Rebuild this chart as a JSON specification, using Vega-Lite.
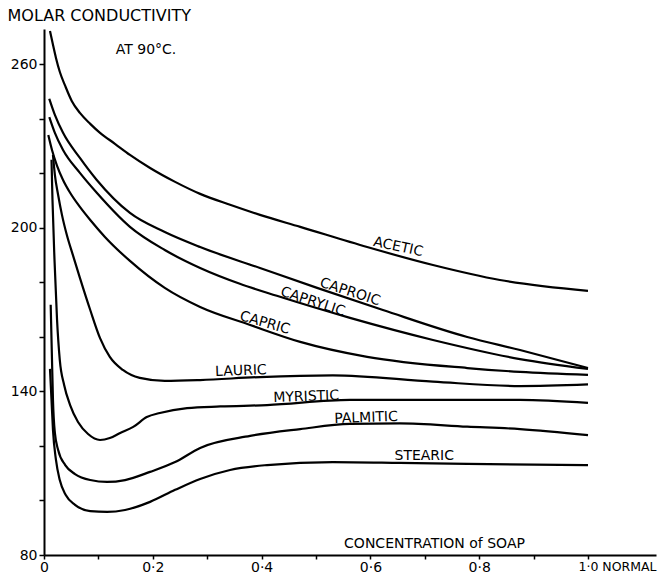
{
  "$schema": "https://vega.github.io/schema/vega-lite/v6.json",
  "width": 612,
  "height": 526,
  "autosize": {"type": "none"},
  "padding": {"left": 44, "top": 29, "right": 10, "bottom": 18},
  "background": "white",
  "config": {"view": {"stroke": null}, "font": "DejaVu Sans"},
  "datasets": {
    "curves": [
      {"acid": "Acetic", "c": 0.011, "k": 272.3},
      {"acid": "Acetic", "c": 0.0165, "k": 267.2},
      {"acid": "Acetic", "c": 0.022, "k": 262.4},
      {"acid": "Acetic", "c": 0.029, "k": 257.3},
      {"acid": "Acetic", "c": 0.039, "k": 252.1},
      {"acid": "Acetic", "c": 0.051, "k": 246.6},
      {"acid": "Acetic", "c": 0.066, "k": 242.2},
      {"acid": "Acetic", "c": 0.085, "k": 238.2},
      {"acid": "Acetic", "c": 0.103, "k": 234.9},
      {"acid": "Acetic", "c": 0.131, "k": 230.8},
      {"acid": "Acetic", "c": 0.158, "k": 226.8},
      {"acid": "Acetic", "c": 0.195, "k": 222.0},
      {"acid": "Acetic", "c": 0.241, "k": 216.9},
      {"acid": "Acetic", "c": 0.287, "k": 212.5},
      {"acid": "Acetic", "c": 0.342, "k": 208.5},
      {"acid": "Acetic", "c": 0.397, "k": 204.8},
      {"acid": "Acetic", "c": 0.471, "k": 200.4},
      {"acid": "Acetic", "c": 0.594, "k": 193.0},
      {"acid": "Acetic", "c": 0.715, "k": 186.4},
      {"acid": "Acetic", "c": 0.838, "k": 180.9},
      {"acid": "Acetic", "c": 1.0, "k": 176.9},

      {"acid": "Caproic", "c": 0.0097, "k": 247.4},
      {"acid": "Caproic", "c": 0.020, "k": 241.5},
      {"acid": "Caproic", "c": 0.035, "k": 234.9},
      {"acid": "Caproic", "c": 0.066, "k": 225.7},
      {"acid": "Caproic", "c": 0.097, "k": 217.6},
      {"acid": "Caproic", "c": 0.158, "k": 205.5},
      {"acid": "Caproic", "c": 0.222, "k": 198.5},
      {"acid": "Caproic", "c": 0.287, "k": 193.0},
      {"acid": "Caproic", "c": 0.397, "k": 185.3},
      {"acid": "Caproic", "c": 0.502, "k": 178.0},
      {"acid": "Caproic", "c": 0.623, "k": 169.9},
      {"acid": "Caproic", "c": 0.778, "k": 160.0},
      {"acid": "Caproic", "c": 0.875, "k": 155.2},
      {"acid": "Caproic", "c": 1.0, "k": 148.6},

      {"acid": "Caprylic", "c": 0.0097, "k": 240.7},
      {"acid": "Caprylic", "c": 0.020, "k": 234.9},
      {"acid": "Caprylic", "c": 0.035, "k": 228.6},
      {"acid": "Caprylic", "c": 0.066, "k": 220.2},
      {"acid": "Caprylic", "c": 0.097, "k": 212.9},
      {"acid": "Caprylic", "c": 0.158, "k": 200.4},
      {"acid": "Caprylic", "c": 0.222, "k": 191.9},
      {"acid": "Caprylic", "c": 0.287, "k": 185.3},
      {"acid": "Caprylic", "c": 0.360, "k": 179.5},
      {"acid": "Caprylic", "c": 0.428, "k": 175.1},
      {"acid": "Caprylic", "c": 0.5625, "k": 167.0},
      {"acid": "Caprylic", "c": 0.715, "k": 158.9},
      {"acid": "Caprylic", "c": 0.875, "k": 151.9},
      {"acid": "Caprylic", "c": 1.0, "k": 148.3},

      {"acid": "Capric", "c": 0.0079, "k": 234.1},
      {"acid": "Capric", "c": 0.0147, "k": 228.6},
      {"acid": "Capric", "c": 0.024, "k": 222.8},
      {"acid": "Capric", "c": 0.035, "k": 217.6},
      {"acid": "Capric", "c": 0.048, "k": 212.9},
      {"acid": "Capric", "c": 0.066, "k": 207.7},
      {"acid": "Capric", "c": 0.085, "k": 202.9},
      {"acid": "Capric", "c": 0.112, "k": 196.7},
      {"acid": "Capric", "c": 0.158, "k": 187.9},
      {"acid": "Capric", "c": 0.222, "k": 178.0},
      {"acid": "Capric", "c": 0.287, "k": 171.0},
      {"acid": "Capric", "c": 0.379, "k": 164.4},
      {"acid": "Capric", "c": 0.471, "k": 158.2},
      {"acid": "Capric", "c": 0.594, "k": 152.7},
      {"acid": "Capric", "c": 0.778, "k": 148.6},
      {"acid": "Capric", "c": 0.875, "k": 147.2},
      {"acid": "Capric", "c": 1.0, "k": 146.1},

      {"acid": "Lauric", "c": 0.0165, "k": 226.8},
      {"acid": "Lauric", "c": 0.020, "k": 219.5},
      {"acid": "Lauric", "c": 0.026, "k": 212.1},
      {"acid": "Lauric", "c": 0.033, "k": 204.8},
      {"acid": "Lauric", "c": 0.042, "k": 197.4},
      {"acid": "Lauric", "c": 0.053, "k": 190.1},
      {"acid": "Lauric", "c": 0.066, "k": 181.7},
      {"acid": "Lauric", "c": 0.085, "k": 169.9},
      {"acid": "Lauric", "c": 0.103, "k": 159.6},
      {"acid": "Lauric", "c": 0.121, "k": 152.7},
      {"acid": "Lauric", "c": 0.145, "k": 147.9},
      {"acid": "Lauric", "c": 0.176, "k": 145.0},
      {"acid": "Lauric", "c": 0.222, "k": 143.9},
      {"acid": "Lauric", "c": 0.287, "k": 144.2},
      {"acid": "Lauric", "c": 0.397, "k": 145.3},
      {"acid": "Lauric", "c": 0.531, "k": 145.9},
      {"acid": "Lauric", "c": 0.715, "k": 143.6},
      {"acid": "Lauric", "c": 0.875, "k": 142.0},
      {"acid": "Lauric", "c": 1.0, "k": 142.6},

      {"acid": "Myristic", "c": 0.0138, "k": 225.0},
      {"acid": "Myristic", "c": 0.0156, "k": 210.3},
      {"acid": "Myristic", "c": 0.0193, "k": 188.3},
      {"acid": "Myristic", "c": 0.024, "k": 166.2},
      {"acid": "Myristic", "c": 0.029, "k": 151.6},
      {"acid": "Myristic", "c": 0.037, "k": 142.4},
      {"acid": "Myristic", "c": 0.048, "k": 135.0},
      {"acid": "Myristic", "c": 0.0625, "k": 128.8},
      {"acid": "Myristic", "c": 0.081, "k": 124.4},
      {"acid": "Myristic", "c": 0.103, "k": 122.2},
      {"acid": "Myristic", "c": 0.121, "k": 122.9},
      {"acid": "Myristic", "c": 0.140, "k": 124.8},
      {"acid": "Myristic", "c": 0.164, "k": 127.0},
      {"acid": "Myristic", "c": 0.189, "k": 130.6},
      {"acid": "Myristic", "c": 0.213, "k": 132.1},
      {"acid": "Myristic", "c": 0.263, "k": 133.9},
      {"acid": "Myristic", "c": 0.324, "k": 134.5},
      {"acid": "Myristic", "c": 0.410, "k": 135.0},
      {"acid": "Myristic", "c": 0.5625, "k": 136.9},
      {"acid": "Myristic", "c": 0.715, "k": 136.9},
      {"acid": "Myristic", "c": 0.875, "k": 136.9},
      {"acid": "Myristic", "c": 1.0, "k": 135.8},

      {"acid": "Palmitic", "c": 0.0123, "k": 171.8},
      {"acid": "Palmitic", "c": 0.0147, "k": 151.6},
      {"acid": "Palmitic", "c": 0.0165, "k": 136.9},
      {"acid": "Palmitic", "c": 0.020, "k": 124.8},
      {"acid": "Palmitic", "c": 0.026, "k": 118.5},
      {"acid": "Palmitic", "c": 0.039, "k": 113.0},
      {"acid": "Palmitic", "c": 0.057, "k": 109.7},
      {"acid": "Palmitic", "c": 0.085, "k": 107.5},
      {"acid": "Palmitic", "c": 0.116, "k": 106.8},
      {"acid": "Palmitic", "c": 0.149, "k": 107.5},
      {"acid": "Palmitic", "c": 0.195, "k": 110.5},
      {"acid": "Palmitic", "c": 0.241, "k": 114.1},
      {"acid": "Palmitic", "c": 0.287, "k": 119.3},
      {"acid": "Palmitic", "c": 0.379, "k": 123.7},
      {"acid": "Palmitic", "c": 0.471, "k": 126.2},
      {"acid": "Palmitic", "c": 0.5625, "k": 128.1},
      {"acid": "Palmitic", "c": 0.654, "k": 128.3},
      {"acid": "Palmitic", "c": 0.778, "k": 127.1},
      {"acid": "Palmitic", "c": 0.875, "k": 126.2},
      {"acid": "Palmitic", "c": 1.0, "k": 124.0},

      {"acid": "Stearic", "c": 0.011, "k": 148.3},
      {"acid": "Stearic", "c": 0.0138, "k": 136.9},
      {"acid": "Stearic", "c": 0.0165, "k": 125.9},
      {"acid": "Stearic", "c": 0.022, "k": 114.9},
      {"acid": "Stearic", "c": 0.029, "k": 107.5},
      {"acid": "Stearic", "c": 0.040, "k": 102.0},
      {"acid": "Stearic", "c": 0.057, "k": 98.4},
      {"acid": "Stearic", "c": 0.085, "k": 96.1},
      {"acid": "Stearic", "c": 0.116, "k": 95.8},
      {"acid": "Stearic", "c": 0.149, "k": 96.5},
      {"acid": "Stearic", "c": 0.195, "k": 99.5},
      {"acid": "Stearic", "c": 0.241, "k": 103.9},
      {"acid": "Stearic", "c": 0.287, "k": 107.9},
      {"acid": "Stearic", "c": 0.342, "k": 111.2},
      {"acid": "Stearic", "c": 0.410, "k": 113.0},
      {"acid": "Stearic", "c": 0.531, "k": 114.1},
      {"acid": "Stearic", "c": 0.654, "k": 113.8},
      {"acid": "Stearic", "c": 0.778, "k": 113.4},
      {"acid": "Stearic", "c": 1.0, "k": 113.0}
    ],
    "labels": [
      {"name": "ACETIC", "c": 0.651, "k": 193.0},
      {"name": "CAPROIC", "c": 0.5625, "k": 176.5},
      {"name": "CAPRYLIC", "c": 0.494, "k": 172.9},
      {"name": "CAPRIC", "c": 0.406, "k": 165.1},
      {"name": "LAURIC", "c": 0.362, "k": 147.5},
      {"name": "MYRISTIC", "c": 0.482, "k": 138.0},
      {"name": "PALMITIC", "c": 0.592, "k": 130.3},
      {"name": "STEARIC", "c": 0.699, "k": 116.3},
      {"name": "AT 90°C.", "c": 0.1875, "k": 265.3}
    ]
  },
  "layer": [
    {
      "data": {"name": "curves"},
      "mark": {"type": "line", "interpolate": "monotone", "color": "black", "strokeWidth": 2.2},
      "encoding": {
        "x": {
          "field": "c", "type": "quantitative",
          "scale": {"domain": [0, 1.125], "nice": false, "zero": false},
          "axis": {
            "values": [0, 0.1, 0.2, 0.3, 0.4, 0.5, 0.6, 0.7, 0.8, 0.9, 1],
            "labelExpr": "datum.value == 0 ? '0' : (round(datum.value * 10) % 2 == 1 ? '' : (datum.value == 1 ? '1·0 NORMAL' : replace(format(datum.value, '.1f'), '.', '·')))",
            "labelAlign": {"condition": {"test": "datum.value == 1", "value": "left"}, "value": "center"},
            "labelOffset": {"condition": {"test": "datum.value == 1", "value": -10}, "value": 0},
            "labelFontSize": {"condition": {"test": "datum.value == 1", "value": 12.5}, "value": 14},
            "labelFlush": false,
            "labelOverlap": false,
            "labelColor": "black",
            "labelPadding": 1,
            "title": "CONCENTRATION of SOAP",
            "titleX": 390,
            "titleY": -12,
            "titleAlign": "center",
            "titleBaseline": "middle",
            "titleFontSize": 14,
            "titleFontWeight": "normal",
            "titleColor": "black",
            "domainColor": "black",
            "domainWidth": 2,
            "tickColor": "black",
            "tickWidth": 1.5,
            "tickSize": 4,
            "grid": false
          }
        },
        "y": {
          "field": "k", "type": "quantitative",
          "scale": {"domain": [80, 273], "nice": false, "zero": false},
          "axis": {
            "values": [80, 100, 120, 140, 160, 180, 200, 220, 240, 260],
            "labelExpr": "(datum.value - 80) % 60 == 0 ? datum.label : ''",
            "labelFontSize": 14,
            "labelColor": "black",
            "labelPadding": 2,
            "title": "MOLAR CONDUCTIVITY",
            "titleAngle": 0,
            "titleAlign": "left",
            "titleBaseline": "middle",
            "titleX": -37,
            "titleY": -14,
            "titleFontSize": 16,
            "titleFontWeight": "normal",
            "titleColor": "black",
            "domainColor": "black",
            "domainWidth": 2,
            "tickColor": "black",
            "tickWidth": 1.5,
            "tickSize": 5,
            "grid": false
          }
        },
        "detail": {"field": "acid", "type": "nominal"}
      }
    },
    {
      "data": {"name": "labels"},
      "transform": [{"filter": {"field": "name", "equal": "ACETIC"}}],
      "mark": {"type": "text", "angle": 12, "fontSize": 14, "color": "black"},
      "encoding": {"x": {"field": "c", "type": "quantitative"}, "y": {"field": "k", "type": "quantitative"}, "text": {"field": "name"}}
    },
    {
      "data": {"name": "labels"},
      "transform": [{"filter": {"field": "name", "oneOf": ["CAPROIC", "CAPRYLIC"]}}],
      "mark": {"type": "text", "angle": 18, "fontSize": 14, "color": "black"},
      "encoding": {"x": {"field": "c", "type": "quantitative"}, "y": {"field": "k", "type": "quantitative"}, "text": {"field": "name"}}
    },
    {
      "data": {"name": "labels"},
      "transform": [{"filter": {"field": "name", "equal": "CAPRIC"}}],
      "mark": {"type": "text", "angle": 16, "fontSize": 14, "color": "black"},
      "encoding": {"x": {"field": "c", "type": "quantitative"}, "y": {"field": "k", "type": "quantitative"}, "text": {"field": "name"}}
    },
    {
      "data": {"name": "labels"},
      "transform": [{"filter": {"field": "name", "oneOf": ["LAURIC", "MYRISTIC", "PALMITIC"]}}],
      "mark": {"type": "text", "angle": -2, "fontSize": 14, "color": "black"},
      "encoding": {"x": {"field": "c", "type": "quantitative"}, "y": {"field": "k", "type": "quantitative"}, "text": {"field": "name"}}
    },
    {
      "data": {"name": "labels"},
      "transform": [{"filter": {"field": "name", "oneOf": ["STEARIC", "AT 90°C."]}}],
      "mark": {"type": "text", "angle": 0, "fontSize": 14, "color": "black"},
      "encoding": {"x": {"field": "c", "type": "quantitative"}, "y": {"field": "k", "type": "quantitative"}, "text": {"field": "name"}}
    }
  ]
}
